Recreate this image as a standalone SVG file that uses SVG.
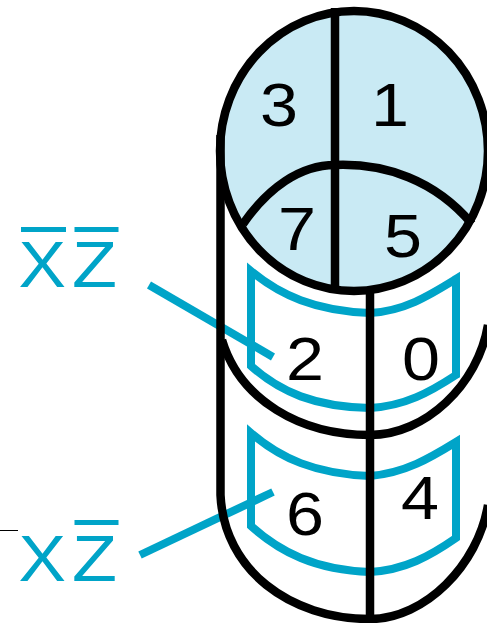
<svg xmlns="http://www.w3.org/2000/svg" width="487" height="623" viewBox="0 0 487 623">
<style>
.k{fill:none;stroke:#000;stroke-width:8.500}
.c{fill:none;stroke:#00a4c8;stroke-width:8}
.d{font-family:"Liberation Sans",Arial,sans-serif;font-size:62px;fill:#000;text-anchor:middle}
.l{font-family:"Liberation Sans",Arial,sans-serif;font-size:65px;fill:#00a4c8}
.b{fill:#00a4c8}
</style>
<rect width="487" height="623" fill="#fff"/>
<g id="connectors">
<path class="c" d="M149,285L273,357"/>
<path class="c" d="M140,555L273,492"/>
<path d="M0,530.500H18" stroke="#000" stroke-width="1" fill="none"/>
</g>
<g id="top-face">
<ellipse cx="354" cy="151" rx="134" ry="140" fill="#c9eaf4"/>
</g>
<g id="groups">
<g id="group-xbar-zbar">
<path class="c" d="M370,313C315,311 280,295 251,271V366C280,392 315,407 370,408"/>
<path class="c" d="M370,313C405,311 430,295 456,279V375C430,392 405,406 370,408"/>
</g>
<g id="group-x-zbar">
<path class="c" d="M370,476C315,474 280,458 251,433V526C280,552 315,570 370,572"/>
<path class="c" d="M370,476C405,473 430,458 456,442V538C430,556 405,570 370,572"/>
</g>
</g>
<g id="cylinder">
<ellipse class="k" cx="354" cy="151" rx="134" ry="140"/>
<path class="k" d="M335,8V291"/>
<path class="k" d="M243,224C268,188 300,165 335,165C385,163 435,180 472,224"/>
<path class="k" d="M370,291V619"/>
<path class="k" d="M220.500,135V495C224,570 290,619 370,619C425,619 478,565 488,505"/>
<path class="k" d="M222,340C240,400 300,435 370,435C425,435 478,385 488,325"/>
</g>
<g id="cell-3"><text class="d" x="279" y="126" textLength="38" lengthAdjust="spacingAndGlyphs">3</text></g>
<g id="cell-1"><text class="d" x="390" y="126" textLength="38" lengthAdjust="spacingAndGlyphs">1</text></g>
<g id="cell-7"><text class="d" x="297" y="250" textLength="38" lengthAdjust="spacingAndGlyphs">7</text></g>
<g id="cell-5"><text class="d" x="403" y="257" textLength="38" lengthAdjust="spacingAndGlyphs">5</text></g>
<g id="cell-2"><text class="d" x="305" y="380" textLength="38" lengthAdjust="spacingAndGlyphs">2</text></g>
<g id="cell-0"><text class="d" x="421" y="380" textLength="38" lengthAdjust="spacingAndGlyphs">0</text></g>
<g id="cell-6"><text class="d" x="305" y="535" textLength="38" lengthAdjust="spacingAndGlyphs">6</text></g>
<g id="cell-4"><text class="d" x="420" y="519" textLength="38" lengthAdjust="spacingAndGlyphs">4</text></g>
<g id="label-xbar-zbar">
<text class="l" x="18.500" y="287" textLength="47.500" lengthAdjust="spacingAndGlyphs">X</text><text class="l" x="72" y="287" textLength="45" lengthAdjust="spacingAndGlyphs">Z</text>
<rect class="b" x="21" y="227" width="45" height="5"/><rect class="b" x="74.500" y="227" width="44" height="5"/>
</g>
<g id="label-x-zbar">
<text class="l" x="18.500" y="580.500" textLength="47.500" lengthAdjust="spacingAndGlyphs">X</text><text class="l" x="72" y="580.500" textLength="45" lengthAdjust="spacingAndGlyphs">Z</text>
<rect class="b" x="74.500" y="520" width="44" height="5"/>
</g>
</svg>
